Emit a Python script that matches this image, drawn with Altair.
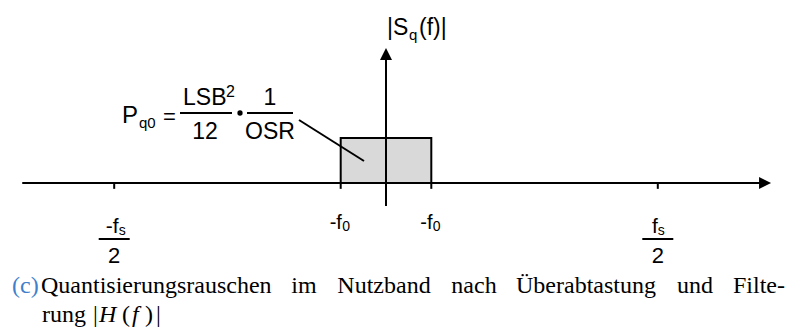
import altair as alt
import pandas as pd

# Spectrum of the in-band quantisation noise (frequencies in units of f0)
f0 = 1.0
fs_half = 6.0
noise_level = 1.0

tick_freqs = [-fs_half, -f0, f0, fs_half]
band_freqs = [-f0, f0]
band_labels = ["-f", "-f"]
band_subs = ["0", "0"]
nyq_freqs = [-fs_half, fs_half]
nyq_labels = ["-f", "f"]
nyq_subs = ["s", "s"]
nyq_denoms = ["2", "2"]

caption_tag = "(c)"
caption_words = ["Quantisierungsrauschen", "im", "Nutzband", "nach", "Überabtastung", "und", "Filte-"]
caption_line2 = "rung"

# ---- layout ---------------------------------------------------------------
W, H = 787, 336
PX_PER_F = 45.3
PX_PER_LEVEL = 45.0
ORIGIN_X, ORIGIN_Y = 386, 183
SANS = "Liberation Sans"
SERIF = "Liberation Serif"
CAP = 24

xs = alt.Scale(domain=[-ORIGIN_X / PX_PER_F, (W - ORIGIN_X) / PX_PER_F], nice=False, zero=False)
ys = alt.Scale(domain=[-(H - ORIGIN_Y) / PX_PER_LEVEL, ORIGIN_Y / PX_PER_LEVEL], nice=False, zero=False)

ONE = alt.Data(values=[{}])


def X(v):
    return alt.X(datum=v, scale=xs, axis=None)


def Y(v):
    return alt.Y(datum=v, scale=ys, axis=None)


def label(text, x, y, size, align="left", font=SANS, style="normal", color="black"):
    return alt.Chart(ONE).mark_text(
        text=text, font=font, fontSize=size, fontStyle=style, align=align,
        baseline="alphabetic", color=color,
    ).encode(x=alt.value(x), y=alt.value(y))


def seg(x1, y1, x2, y2, width=2):
    return alt.Chart(ONE).mark_rule(color="black", strokeWidth=width).encode(
        x=alt.value(x1), y=alt.value(y1), x2=alt.value(x2), y2=alt.value(y2)
    )


layers = []

# noise band
band = pd.DataFrame({"lo": [band_freqs[0]], "hi": [band_freqs[1]], "base": [0.0], "level": [noise_level]})
layers.append(
    alt.Chart(band).mark_rect(fill="#d9d9d9", stroke="black", strokeWidth=2).encode(
        x=alt.X("lo:Q", scale=xs, axis=None), x2="hi:Q",
        y=alt.Y("base:Q", scale=ys, axis=None), y2="level:Q",
    )
)

# frequency axis with arrow
layers.append(
    alt.Chart(ONE).mark_rule(color="black", strokeWidth=2).encode(
        x=X(-8.03), x2=alt.X2(datum=8.3), y=Y(0)
    )
)
layers.append(
    alt.Chart(ONE).mark_point(shape="M0,0L-2,-1L-2,1Z", filled=True, size=144, opacity=1, color="black").encode(
        x=X(8.5), y=Y(0)
    )
)

# magnitude axis with arrow
layers.append(
    alt.Chart(ONE).mark_rule(color="black", strokeWidth=2).encode(
        x=X(0), y=Y(-0.51), y2=alt.Y2(datum=2.75)
    )
)
layers.append(
    alt.Chart(ONE).mark_point(shape="M0,0L-1,2L1,2Z", filled=True, size=144, opacity=1, color="black").encode(
        x=X(0), y=Y(3.0)
    )
)

# tick marks
ticks = pd.DataFrame({"f": tick_freqs, "top": 0.0, "bottom": -0.13})
layers.append(
    alt.Chart(ticks).mark_rule(color="black", strokeWidth=2).encode(
        x=alt.X("f:Q", scale=xs, axis=None),
        y=alt.Y("top:Q", scale=ys, axis=None), y2="bottom:Q",
    )
)

# band-edge labels
for f, t, s in zip(band_freqs, band_labels, band_subs):
    df = pd.DataFrame({"f": [f]})
    layers.append(alt.Chart(df).mark_text(text=t, font=SANS, fontSize=20, align="left", baseline="alphabetic", dx=-11)
                  .encode(x=alt.X("f:Q", scale=xs, axis=None), y=alt.value(229)))
    layers.append(alt.Chart(df).mark_text(text=s, font=SANS, fontSize=14, align="left", baseline="alphabetic", dx=1.5)
                  .encode(x=alt.X("f:Q", scale=xs, axis=None), y=alt.value(231)))

# +-fs/2 labels
for f, t, s, d, off in zip(nyq_freqs, nyq_labels, nyq_subs, nyq_denoms, [4.5, 0]):
    df = pd.DataFrame({"f": [f], "lo": [f - 15.5 / PX_PER_F], "hi": [f + 15.5 / PX_PER_F]})
    layers.append(alt.Chart(df).mark_text(text=t, font=SANS, fontSize=21, align="right", baseline="alphabetic", dx=off)
                  .encode(x=alt.X("f:Q", scale=xs, axis=None), y=alt.value(233)))
    layers.append(alt.Chart(df).mark_text(text=s, font=SANS, fontSize=14, align="left", baseline="alphabetic", dx=off)
                  .encode(x=alt.X("f:Q", scale=xs, axis=None), y=alt.value(235)))
    layers.append(alt.Chart(df).mark_rule(color="black", strokeWidth=2)
                  .encode(x=alt.X("lo:Q", scale=xs, axis=None), x2="hi:Q", y=alt.value(239)))
    layers.append(alt.Chart(df).mark_text(text=d, font=SANS, fontSize=22, align="center", baseline="alphabetic")
                  .encode(x=alt.X("f:Q", scale=xs, axis=None), y=alt.value(263)))

# axis title |Sq(f)|
layers += [
    label("|S", 387, 35, 23),
    label("q", 409, 40, 15),
    label("(f)|", 419, 35, 23),
]

# noise power formula
layers += [
    label("P", 122, 123, 24),
    label("q0", 139, 128, 15),
    label("=", 163, 124, 22),
    label("LSB", 183, 105, 23),
    label("2", 226, 97, 16),
    seg(180, 113, 232, 113, 2),
    label("12", 205, 139, 23, align="center"),
    label("1", 270, 105, 23, align="center"),
    seg(247, 113, 293, 113, 2),
    label("OSR", 270, 139, 23, align="center"),
    seg(299, 120, 364, 161, 2),
]
layers.append(
    alt.Chart(ONE).mark_point(shape="circle", filled=True, size=28, opacity=1, color="black")
    .encode(x=alt.value(240), y=alt.value(113))
)

# caption, first line set justified: first word flush left, last flush right
word_x = [41, 304, 384, 474, 586, 695, 785]
word_align = ["left", "center", "center", "center", "center", "center", "right"]
layers.append(label(caption_tag, 12, 293, CAP, font=SERIF, color="#3f7fcc"))
for w, x, a in zip(caption_words, word_x, word_align):
    layers.append(label(w, x, 293, CAP, align=a, font=SERIF))

layers += [
    label(caption_line2, 42, 322, CAP, font=SERIF),
    label("|", 93, 322, CAP, font=SERIF),
    label("H", 99, 322, CAP, font=SERIF, style="italic"),
    label("(", 122, 322, CAP, font=SERIF),
    label("f", 132, 322, CAP, font=SERIF, style="italic"),
    label(")", 145, 322, CAP, font=SERIF),
    label("|", 156, 322, CAP, font=SERIF),
]

chart = alt.layer(*layers).properties(
    width=W, height=H, padding=0, autosize=alt.AutoSizeParams(type="none")
).configure_view(stroke=None)

chart.save("out.html", embed_options={"renderer": "svg", "actions": False})
